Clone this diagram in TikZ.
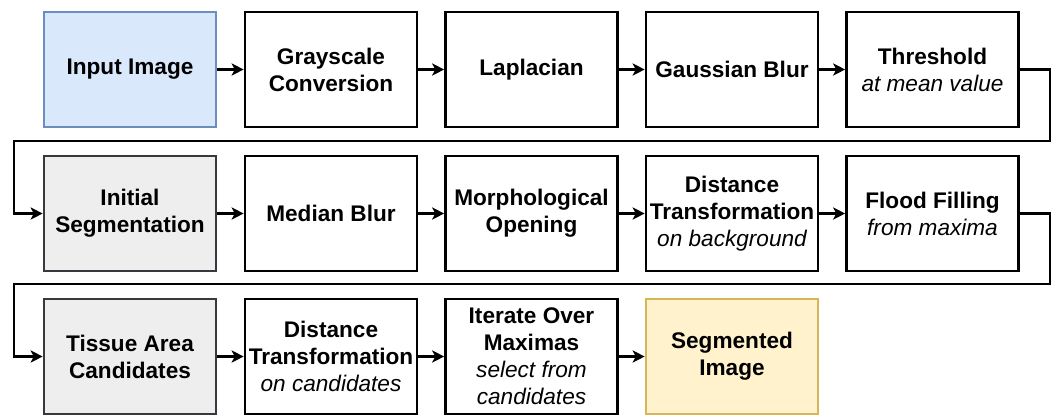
\documentclass[tikz,border=0pt]{standalone}
\usepackage{fontspec}
\setmainfont{Liberation Sans}
\usetikzlibrary{arrows.meta}
\definecolor{blueFill}{HTML}{DAE8FC}
\definecolor{blueLine}{HTML}{6C8EBF}
\definecolor{grayFill}{HTML}{EEEEEE}
\definecolor{grayLine}{HTML}{36393D}
\definecolor{yellowFill}{HTML}{FFF2CC}
\definecolor{yellowLine}{HTML}{D6B656}
\tikzset{
  stage/.style={draw, line width=2.6pt, minimum width=172pt, minimum height=115pt,
    align=center, font=\fontsize{22.6}{27}\selectfont\bfseries, inner sep=0pt},
  inputstage/.style={stage, draw=blueLine, fill=blueFill},
  midstage/.style={stage, draw=grayLine, fill=grayFill},
  outstage/.style={stage, draw=yellowLine, fill=yellowFill},
  flow/.style={line width=2.6pt, -{Stealth[length=12pt,width=12pt,inset=3pt]}}
}
\newcommand{\note}[1]{{\mdseries\itshape #1}}
\begin{document}
\begin{tikzpicture}[x=1pt, y=-1pt]
 \useasboundingbox (0,0) rectangle (1052,415);
 % first row
 \node[inputstage] (input) at (130,69.5) {Input Image};
 \node[stage] (gray) at (331,69.5) {Grayscale\\Conversion};
 \node[stage] (lap) at (531.5,69.5) {Laplacian};
 \node[stage] (gauss) at (732,69.5) {Gaussian Blur};
 \node[stage] (thr) at (932.5,69.5) {Threshold\\\note{at mean value}};
 % second row
 \node[midstage] (init) at (130,213.5) {Initial\\Segmentation};
 \node[stage] (median) at (331,213.5) {Median Blur};
 \node[stage] (morph) at (531.5,213.5) {Morphological\\Opening};
 \node[stage] (distbg) at (732,213.5) {Distance\\Transformation\\\note{on background}};
 \node[stage] (flood) at (932.5,213.5) {Flood Filling\\\note{from maxima}};
 % third row
 \node[midstage] (tissue) at (130,356.5) {Tissue Area\\Candidates};
 \node[stage] (distcand) at (331,356.5) {Distance\\Transformation\\\note{on candidates}};
 \node[stage] (iter) at (531.5,356.5) {Iterate Over\\Maximas\\\note{select from}\\\note{candidates}};
 \node[outstage] (seg) at (732,356.5) {Segmented\\Image};

 \foreach \a/\b in {input/gray, gray/lap, lap/gauss, gauss/thr,
                    init/median, median/morph, morph/distbg, distbg/flood,
                    tissue/distcand, distcand/iter, iter/seg}
 {
     \draw[flow] (\a.east) -- (\b.west);
 }
 % wrap to next row
 \coordinate (turnA) at (14,141);
 \coordinate (turnB) at (14,284);
 \draw[flow, rounded corners=0pt] (thr.east) -- ++(30,0) |- (turnA) |- (init.west);
 \draw[flow] (flood.east) -- ++(30,0) |- (turnB) |- (tissue.west);
\end{tikzpicture}
\end{document}
